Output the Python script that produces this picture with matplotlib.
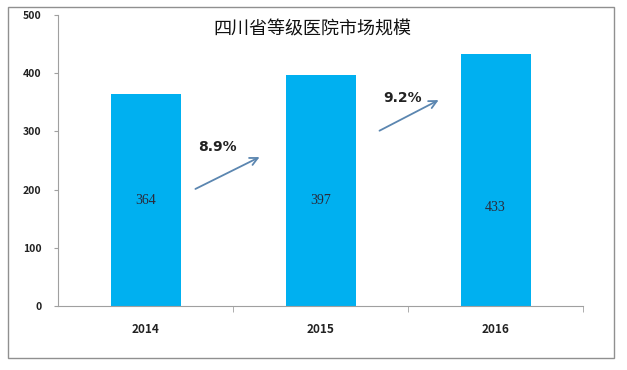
import matplotlib.pyplot as plt
from matplotlib.patches import Rectangle

plt.rcParams['font.family'] = ['Noto Sans CJK SC', 'DejaVu Sans']

years = ['2014', '2015', '2016']
market = [364, 397, 433]
growth = ['8.9%', '9.2%']

fig = plt.figure(figsize=(6.27, 3.7), dpi=100)
ax = fig.add_axes([58 / 627, 64 / 370, 525 / 627, 291 / 370])

x = range(len(years))
ax.bar(x, market, width=0.4, color='#00B0F0', zorder=2)

for i, v in enumerate(market):
    ax.text(i, 181 if i < 2 else 170, str(v), ha='center', va='center',
            fontsize=10, family='Liberation Serif', color='#2a2a3a', zorder=3)

# growth arrows between bars
arrow_spans = [((0.271, 199), (0.666, 258)), ((1.323, 299), (1.689, 356))]
label_pos = [(0.409, 273), (1.471, 358)]
for (start, end), lbl, pos in zip(arrow_spans, growth, label_pos):
    ax.annotate('', xy=end, xytext=start,
                arrowprops=dict(arrowstyle='->', color='#5B86B0', lw=1.3,
                                mutation_scale=14), zorder=4)
    ax.text(pos[0], pos[1], lbl, ha='center', va='center', fontsize=10,
            fontweight='bold', family='DejaVu Sans', color='#222222', zorder=4)

ax.set_xlim(-0.5, 2.5)
ax.set_ylim(0, 500)
ax.set_yticks([0, 100, 200, 300, 400, 500])
ax.set_xticks([0, 1, 2])
ax.set_xticklabels(years)
ax.set_xticks([0.5, 1.5, 2.5], minor=True)
ax.tick_params(axis='x', which='major', length=0, pad=12, labelsize=8.5)
ax.tick_params(axis='x', which='minor', length=4, color='#A0A0A0')
ax.tick_params(axis='y', length=3, color='#A0A0A0', labelsize=7.5, pad=9)
for lab in ax.get_xticklabels() + ax.get_yticklabels():
    lab.set_fontweight('bold')
    lab.set_color('#222222')
for s in ['top', 'right']:
    ax.spines[s].set_visible(False)
for s in ['left', 'bottom']:
    ax.spines[s].set_color('#A0A0A0')
    ax.spines[s].set_linewidth(0.8)

fig.text(312 / 627, 0.919, '四川省等级医院市场规模', ha='center', va='center',
         fontsize=13, fontweight='normal', color='#111111')

# outer frame
fig.patches.append(Rectangle((8 / 627, 12 / 370), 606 / 627, 351 / 370,
                             transform=fig.transFigure, fill=False,
                             edgecolor='#909090', lw=1.0))

fig.savefig('out.png', dpi=100)
